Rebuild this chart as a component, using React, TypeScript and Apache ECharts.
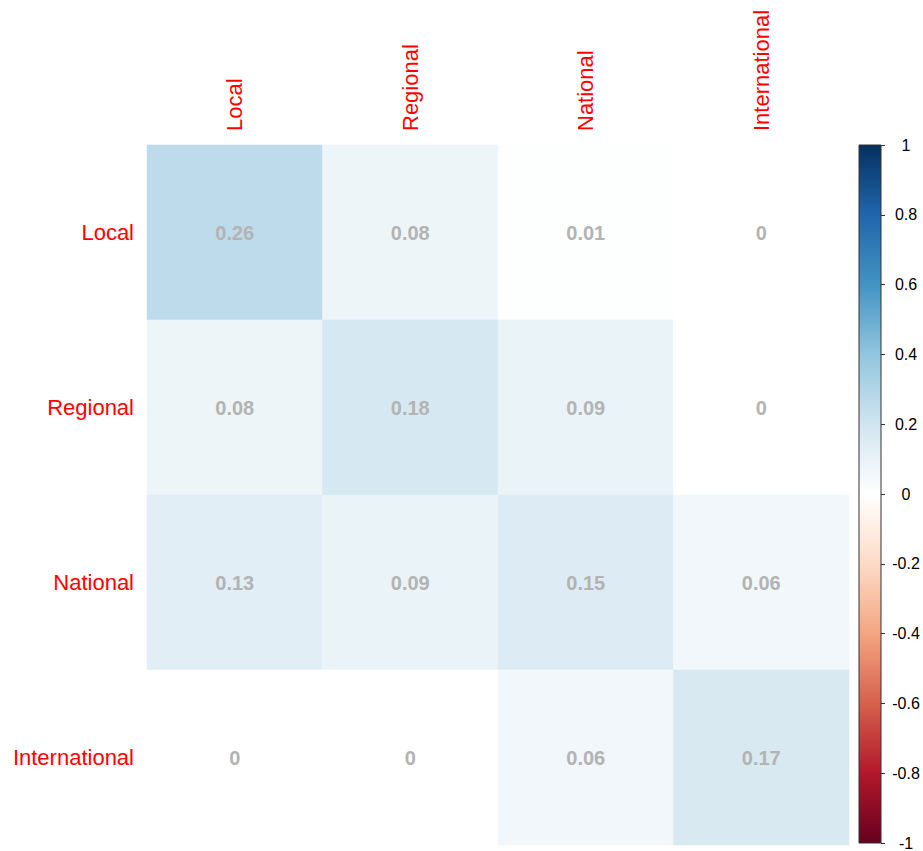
import React, { useEffect, useRef } from "react";
import * as echarts from "echarts";

const categories = ["Local", "Regional", "National", "International"];
// rows top-to-bottom, columns left-to-right
const rowLocal = [0.26, 0.08, 0.01, 0];
const rowRegional = [0.08, 0.18, 0.09, 0];
const rowNational = [0.13, 0.09, 0.15, 0.06];
const rowInternational = [0, 0, 0.06, 0.17];
const matrixRows = [rowLocal, rowRegional, rowNational, rowInternational];

const colorbarMin = -1;
const colorbarMax = 1;
const colorbarStep = 0.2;
const paletteStops = [
  "#67001F", "#B2182B", "#D6604D", "#F4A582", "#FDDBC7", "#FFFFFF",
  "#D1E5F0", "#92C5DE", "#4393C3", "#2166AC", "#053061",
];

const FONT = "'Liberation Sans', Arial, sans-serif";

export default function App() {
  const ref = useRef<HTMLDivElement>(null);
  useEffect(() => {
    if (!ref.current) return;
    const chart = echarts.init(ref.current, undefined, { renderer: "svg" });
    const data: [number, number, number][] = [];
    matrixRows.forEach((row, r) => row.forEach((v, c) => data.push([c, r, v])));

    const posGrad = new echarts.graphic.LinearGradient(0, 0, 0, 1, [
      { offset: 0, color: paletteStops[10] },
      { offset: 0.2, color: paletteStops[9] },
      { offset: 0.4, color: paletteStops[8] },
      { offset: 0.6, color: paletteStops[7] },
      { offset: 0.8, color: paletteStops[6] },
      { offset: 1, color: paletteStops[5] },
    ]);
    const negGrad = new echarts.graphic.LinearGradient(0, 0, 0, 1, [
      { offset: 0, color: paletteStops[5] },
      { offset: 0.2, color: paletteStops[4] },
      { offset: 0.4, color: paletteStops[3] },
      { offset: 0.6, color: paletteStops[2] },
      { offset: 0.8, color: paletteStops[1] },
      { offset: 1, color: paletteStops[0] },
    ]);

    chart.setOption({
      animation: false,
      backgroundColor: "#ffffff",
      textStyle: { fontFamily: FONT },
      grid: [
        { left: 147, top: 145, width: 702, height: 700, show: false },
        {
          left: 859, top: 145, width: 22, height: 700, show: true,
          borderColor: "#333", borderWidth: 1, backgroundColor: "transparent", z: 5,
        },
      ],
      xAxis: [
        {
          type: "category", gridIndex: 0, data: categories, position: "top",
          axisLine: { show: false }, axisTick: { show: false }, splitLine: { show: false },
          axisLabel: { rotate: -90, color: "#FF0000", fontSize: 22, margin: 14, fontFamily: FONT },
        },
        { type: "category", gridIndex: 1, data: ["cb"], show: false },
      ],
      yAxis: [
        {
          type: "category", gridIndex: 0, data: categories, inverse: true,
          axisLine: { show: false }, axisTick: { show: false }, splitLine: { show: false },
          axisLabel: { color: "#FF0000", fontSize: 22, margin: 13, fontFamily: FONT },
        },
        {
          type: "value", gridIndex: 1, position: "right",
          min: colorbarMin, max: colorbarMax, interval: colorbarStep,
          axisLine: { show: false },
          axisTick: { show: true, length: 4, lineStyle: { color: "#333" } },
          splitLine: { show: false },
          axisLabel: {
            color: "#000", fontSize: 16, margin: 25, align: "center", fontFamily: FONT,
          },
        },
      ],
      visualMap: {
        show: false, min: colorbarMin, max: colorbarMax, seriesIndex: 0,
        inRange: { color: paletteStops },
      },
      series: [
        {
          type: "heatmap", xAxisIndex: 0, yAxisIndex: 0, data,
          label: {
            show: true, color: "#B3B3B3", fontSize: 20, fontWeight: "bold", fontFamily: FONT,
            formatter: (p: any) => String(p.value[2]),
          },
          itemStyle: { borderWidth: 0 },
          emphasis: { disabled: true },
        },
        {
          type: "bar", xAxisIndex: 1, yAxisIndex: 1, stack: "cb", data: [colorbarMax],
          barWidth: "100%", itemStyle: { color: posGrad }, silent: true,
        },
        {
          type: "bar", xAxisIndex: 1, yAxisIndex: 1, stack: "cb", data: [colorbarMin],
          barWidth: "100%", itemStyle: { color: negGrad }, silent: true,
        },
      ],
    });
    return () => chart.dispose();
  }, []);
  return (
    <div
      ref={ref}
      style={{ position: "fixed", left: 0, top: 0, width: 923, height: 851 }}
    />
  );
}
